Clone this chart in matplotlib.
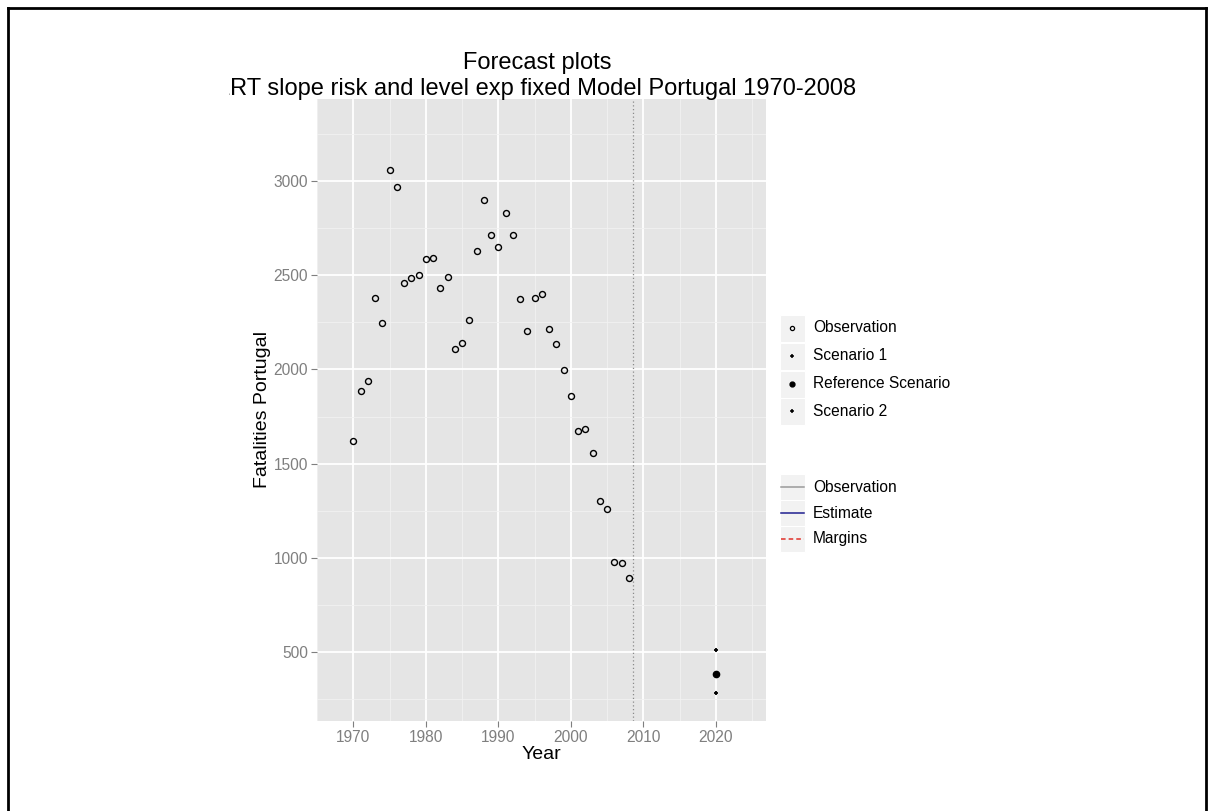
import numpy as np
import matplotlib
matplotlib.use("Agg")
import matplotlib.pyplot as plt
from matplotlib.patches import Rectangle
from matplotlib.transforms import Bbox

plt.rcParams['font.family'] = ['Liberation Sans', 'DejaVu Sans']

years = list(range(1970, 2009))
fatalities = [1620, 1887, 1938, 2381, 2245, 3060, 2966, 2457, 2483, 2500,
              2584, 2593, 2432, 2490, 2108, 2142, 2262, 2627, 2899, 2712,
              2651, 2832, 2712, 2372, 2202, 2381, 2398, 2213, 2135, 1997,
              1860, 1675, 1684, 1556, 1300, 1257, 978, 975, 893]

# Forecasts for 2020
forecast_year = [2020]
scenario1 = [510]
reference = [383]
scenario2 = [284]

last_obs_year = 2008.5

title_lines = ["Forecast plots",
               "LRT slope risk and level exp fixed Model Portugal 1970-2008"]
point_labels = ["Observation", "Scenario 1", "Reference Scenario", "Scenario 2"]
line_labels = ["Observation", "Estimate", "Margins"]

W, H = 1214, 811
fig = plt.figure(figsize=(W / 100, H / 100), dpi=100)

# ---- main panel ----
ax = fig.add_axes([317 / W, 1 - 721 / H, 449 / W, 622 / H])
ax.set_facecolor('#E5E5E5')
for s in ax.spines.values():
    s.set_visible(False)

ax.set_xlim(1966.2, 2026.9)
ax.set_ylim(134, 3435)
ax.set_xticks(np.arange(1970, 2021, 10))
ax.set_xticks(np.arange(1965, 2026, 10), minor=True)
ax.set_yticks(np.arange(500, 3001, 500))
ax.set_yticks(np.arange(250, 3300, 500), minor=True)
ax.grid(which='major', color='white', linewidth=1.3)
ax.grid(which='minor', color='#F2F2F2', linewidth=0.6)
ax.set_axisbelow(True)
ax.tick_params(which='major', length=4, width=0.8, color='#7F7F7F',
               labelcolor='#7F7F7F', labelsize=11.2, pad=2.5)
ax.tick_params(which='minor', length=0)

ax.axvline(last_obs_year, color='#8A8A8A', linestyle=(0, (1, 2)), linewidth=0.9)

ax.plot(years, fatalities, linestyle='none', marker='o', markersize=4.3,
        markerfacecolor='none', markeredgecolor='black', markeredgewidth=1.0)
ax.plot(forecast_year, scenario1, linestyle='none', marker='+', markersize=3.5,
        markeredgecolor='black', markeredgewidth=1.3)
ax.plot(forecast_year, reference, linestyle='none', marker='o', markersize=4.5,
        color='black')
ax.plot(forecast_year, scenario2, linestyle='none', marker='+', markersize=3.5,
        markeredgecolor='black', markeredgewidth=1.3)

ax.set_xlabel("Year", fontsize=14, labelpad=1)
ax.set_ylabel("Fatalities Portugal", fontsize=14, labelpad=2)

# ---- title, clipped at the left like the original device edge ----
clip = Bbox.from_extents(229, 0, W, H)
for i, t in enumerate(title_lines):
    txt = fig.text(537 / W, 1 - (69 + 26 * i) / H, t, ha='center',
                   va='baseline', fontsize=17)
    txt.set_clip_box(clip)
    txt.set_clip_on(True)

# ---- legends drawn by hand (grey key boxes like ggplot) ----
lg = fig.add_axes([0, 0, 1, 1], facecolor='none')
lg.set_xlim(0, W)
lg.set_ylim(H, 0)
lg.axis('off')

rows1 = [328, 356, 384, 411]
for y, lab in zip(rows1, point_labels):
    lg.add_patch(Rectangle((780, y - 13.5), 25, 27, facecolor='#F2F2F2',
                           edgecolor='white', linewidth=0.8))
    lg.text(813, y, lab, va='center', ha='left', fontsize=11.2)
lg.plot([792], [rows1[0]], marker='o', markersize=3, markerfacecolor='none',
        markeredgecolor='black', markeredgewidth=0.9)
lg.plot([792], [rows1[1]], marker='+', markersize=3, markeredgecolor='black',
        markeredgewidth=1.1)
lg.plot([792], [rows1[2]], marker='o', markersize=3.5, color='black')
lg.plot([792], [rows1[3]], marker='+', markersize=3, markeredgecolor='black',
        markeredgewidth=1.1)

rows2 = [487, 513, 539]
line_styles = [('#9A9A9A', '-'), ('#1F1F8F', '-'), ('#E0302A', (0, (3, 2)))]
for y, lab, (c, ls) in zip(rows2, line_labels, line_styles):
    lg.add_patch(Rectangle((780, y - 13), 25, 26, facecolor='#F2F2F2',
                           edgecolor='white', linewidth=0.8))
    lg.plot([781, 804], [y, y], color=c, linestyle=ls, linewidth=1.1)
    lg.text(813, y, lab, va='center', ha='left', fontsize=11.2)

# outer frame of the screenshot
lg.plot([8, 8], [H, 8], color='black', linewidth=2)
lg.plot([8, 1206], [8, 8], color='black', linewidth=2)
lg.plot([1206, 1206], [8, H], color='black', linewidth=2)

fig.savefig("out.png", dpi=100)
